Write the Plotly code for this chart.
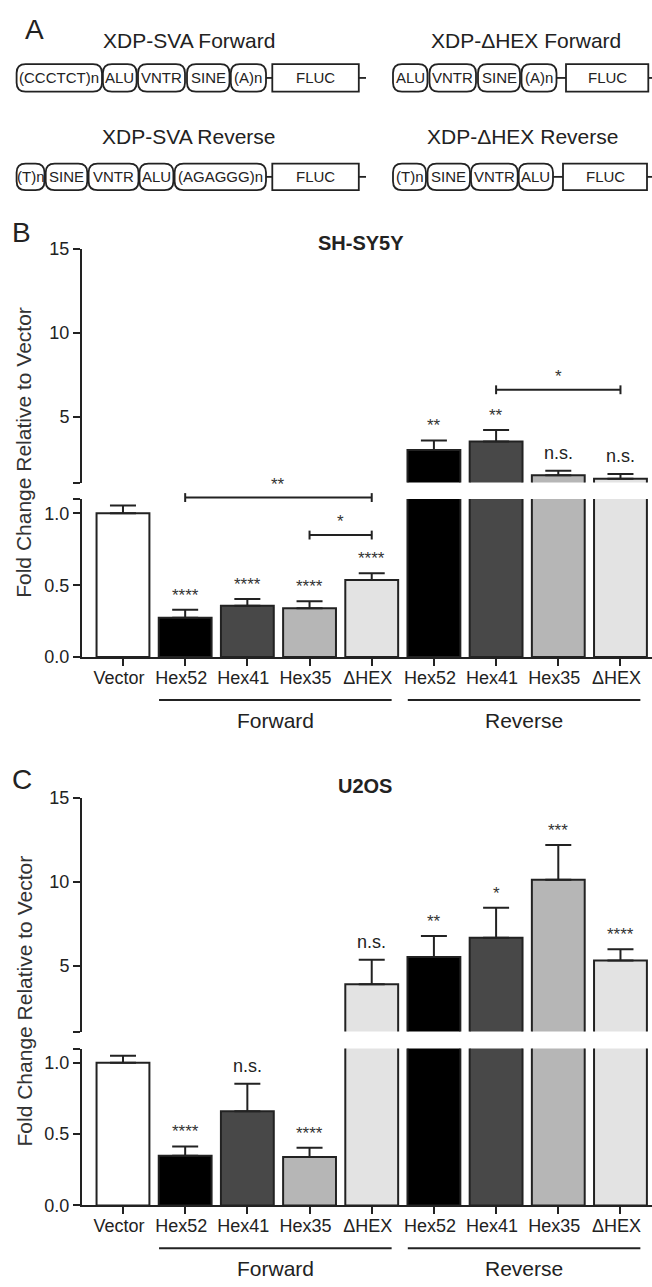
import plotly.graph_objects as go

W, H = 652, 1287

# ---------------- data ----------------
categories = ["Vector", "Hex52", "Hex41", "Hex35", "ΔHEX", "Hex52", "Hex41", "Hex35", "ΔHEX"]
groups = ["Forward", "Reverse"]
group_members = [(1, 4), (5, 8)]
bar_colors = ["#ffffff", "#000000", "#484848", "#b6b6b6", "#e3e3e3",
              "#000000", "#484848", "#b6b6b6", "#e3e3e3"]

shsy5y_mean = [1.0, 0.274, 0.358, 0.34, 0.536, 3.03, 3.54, 1.53, 1.33]
shsy5y_top = [1.055, 0.33, 0.404, 0.388, 0.584, 3.6, 4.22, 1.8, 1.6]
shsy5y_sig = ["", "****", "****", "****", "****", "**", "**", "n.s.", "n.s."]
shsy5y_brackets = [(1, 4, 1.11, "**"), (3, 4, 0.849, "*"), (6, 8, 6.61, "*")]

u2os_mean = [1.0, 0.349, 0.66, 0.34, 3.91, 5.53, 6.68, 10.12, 5.32]
u2os_top = [1.05, 0.414, 0.854, 0.405, 5.37, 6.78, 8.46, 12.19, 5.99]
u2os_sig = ["", "****", "n.s.", "****", "n.s.", "**", "*", "***", "****"]
u2os_brackets = []

lower_range = [0, 1.1]
upper_range = [1.1, 15]
lower_ticks = [0, 0.5, 1.0, 1.1]
lower_ticktext = ["0.0", "0.5", "1.0", ""]
upper_ticks = [1.1, 5, 10, 15]
upper_ticktext = ["", "5", "10", "15"]

ytitle = "Fold Change Relative to Vector"

# ---------------- layout constants ----------------
FONT = "Liberation Sans, Arial, Helvetica, sans-serif"
INK = "#222222"
XR = [-0.659, 8.507]
XDOM = [82 / W, 1.0]


def dom(top_px, bot_px):
    return [1 - bot_px / H, 1 - top_px / H]


panels = [
    dict(name="SH-SY5Y", letter="B", mean=shsy5y_mean, top=shsy5y_top, sig=shsy5y_sig,
         brackets=shsy5y_brackets, low=dom(496.7, 657.3), up=dom(242.3, 480.0),
         ax=("x", "y", "x2", "y2"), title_px=(361, 237), letter_px=(21, 226)),
    dict(name="U2OS", letter="C", mean=u2os_mean, top=u2os_top, sig=u2os_sig,
         brackets=u2os_brackets, low=dom(1055.0, 1214.3), up=dom(800.0, 1037.7),
         ax=("x3", "y3", "x4", "y4"), title_px=(365, 788), letter_px=(22, 782)),
]


def pmap(v, d, r):
    return d[0] + (v - r[0]) / (r[1] - r[0]) * (d[1] - d[0])


def P(x, y):
    return f"{x / W:.5f},{1 - y / H:.5f}"


def note(**kw):
    d = dict(showarrow=False, xanchor="center", yanchor="middle")
    d.update(kw)
    return d


fig = go.Figure()
shapes = []
annots = []

for p in panels:
    xl, yl, xu, yu = p["ax"]
    xs = list(range(len(categories)))
    err_plus = [t - m for t, m in zip(p["top"], p["mean"])]
    # lower segment of the broken axis: every bar
    fig.add_trace(go.Bar(
        x=xs, y=p["mean"], xaxis=xl, yaxis=yl, width=0.85,
        marker=dict(color=bar_colors, line=dict(color=INK, width=2)),
        error_y=dict(type="data", symmetric=False, array=err_plus,
                     arrayminus=[0] * len(xs), color=INK, thickness=2, width=13),
        showlegend=False, hoverinfo="skip"))
    # upper segment: only bars reaching above the break
    up_mean = [m if m > lower_range[1] else None for m in p["mean"]]
    fig.add_trace(go.Bar(
        x=xs, y=up_mean, xaxis=xu, yaxis=yu, width=0.85,
        marker=dict(color=bar_colors, line=dict(color=INK, width=2)),
        error_y=dict(type="data", symmetric=False, array=err_plus,
                     arrayminus=[0] * len(xs), color=INK, thickness=2, width=13),
        showlegend=False, hoverinfo="skip"))
    # significance labels above error bars
    for i, s in enumerate(p["sig"]):
        if not s:
            continue
        t = p["top"][i]
        ya = yl if t <= lower_range[1] else yu
        stars = s.startswith("*")
        annots.append(note(x=i, y=t, xref=xl, yref=ya, text=s,
                           yanchor="bottom", yshift=3 if stars else 6,
                           font=dict(size=17 if stars else 18,
                                     color="#333333" if stars else INK)))
    # comparison brackets
    for a, b, v, s in p["brackets"]:
        if v <= lower_range[1] + 0.05:
            yp = pmap(v, p["low"], lower_range)
        else:
            yp = pmap(v, p["up"], upper_range)
        tk = 4.5 / H
        shapes.append(dict(type="line", xref=xl, yref="paper", x0=a, x1=b, y0=yp, y1=yp,
                           line=dict(color=INK, width=2)))
        for xe in (a, b):
            shapes.append(dict(type="line", xref=xl, yref="paper", x0=xe, x1=xe,
                               y0=yp - tk, y1=yp + tk, line=dict(color=INK, width=2)))
        annots.append(note(x=(a + b) / 2, y=yp, xref=xl, yref="paper", text=s,
                           yanchor="bottom", yshift=2,
                           font=dict(size=17, color="#333333")))
    # group underlines and labels
    base = p["low"][0]
    for g, (a, b) in zip(groups, group_members):
        yline = base - 43.5 / H
        shapes.append(dict(type="line", xref=xl, yref="paper", x0=a - 0.42, x1=b + 0.32,
                           y0=yline, y1=yline, line=dict(color=INK, width=2)))
        annots.append(note(x=(a + b) / 2 - 0.05, y=base - 64 / H, xref=xl, yref="paper",
                           text=g, font=dict(size=21, color=INK)))
    # panel title, letter, y-axis title
    tx, ty = p["title_px"]
    annots.append(note(x=tx / W, y=1 - ty / H, xref="paper", yref="paper",
                       text=f"<b>{p['name']}</b>", font=dict(size=20, color=INK)))
    lx, ly = p["letter_px"]
    annots.append(note(x=lx / W, y=1 - ly / H, xref="paper", yref="paper",
                       text=p["letter"], font=dict(size=28, color=INK)))
    ymid = (p["low"][0] + p["up"][1]) / 2
    annots.append(note(x=24 / W, y=ymid, xref="paper", yref="paper", text=ytitle,
                       textangle=-90, font=dict(size=21, color="#333333")))

# ---------------- panel A schematic ----------------
diagram_titles = [("XDP-SVA Forward", 189, 31), ("XDP-ΔHEX Forward", 526, 31),
                  ("XDP-SVA Reverse", 189, 129), ("XDP-ΔHEX Reverse", 522, 129)]
diagram_rows = [
    dict(y=(55, 83), boxes=[("(CCCTCT)n", 16.6, 102), ("ALU", 102.9, 136.6), ("VNTR", 138, 185),
                            ("SINE", 187, 229.5), ("(A)n", 230.8, 266)], fluc=(272.3, 358.8), tail=366),
    dict(y=(55, 83), boxes=[("ALU", 393, 427.5), ("VNTR", 429.5, 476), ("SINE", 478, 520),
                            ("(A)n", 521.5, 556.5)], fluc=(566, 648.3), tail=653),
    dict(y=(156, 183), boxes=[("(T)n", 16.6, 44.5), ("SINE", 45.7, 87.3), ("VNTR", 88.6, 138.5),
                              ("ALU", 139.5, 173.4), ("(AGAGGG)n", 174.6, 266)], fluc=(272.3, 358.8), tail=366),
    dict(y=(156, 183), boxes=[("(T)n", 393, 426), ("SINE", 427.5, 470), ("VNTR", 471, 517.7),
                              ("ALU", 518.7, 553)], fluc=(563, 647), tail=653),
]


def rrect(x0, x1, y0, y1, r):
    return (f"M {P(x0 + r, y0)} L {P(x1 - r, y0)} Q {P(x1, y0)} {P(x1, y0 + r)} "
            f"L {P(x1, y1 - r)} Q {P(x1, y1)} {P(x1 - r, y1)} L {P(x0 + r, y1)} "
            f"Q {P(x0, y1)} {P(x0, y1 - r)} L {P(x0, y0 + r)} Q {P(x0, y0)} {P(x0 + r, y0)} Z")


for t, cx, cy in diagram_titles:
    annots.append(note(x=cx / W, y=1 - cy / H, xref="paper", yref="paper", text=t,
                       font=dict(size=21, color=INK)))
annots.append(note(x=34 / W, y=1 - 20 / H, xref="paper", yref="paper", text="A",
                   font=dict(size=28, color=INK)))

for row in diagram_rows:
    y0, y1 = row["y"]
    yc = (y0 + y1) / 2
    for label, a, b in row["boxes"]:
        shapes.append(dict(type="path", xref="paper", yref="paper", path=rrect(a, b, y0, y1, 9),
                           line=dict(color=INK, width=1.8), fillcolor="white"))
        annots.append(note(x=(a + b) / 2 / W, y=1 - yc / H, xref="paper", yref="paper",
                           text=label, font=dict(size=15, color=INK)))
    last = row["boxes"][-1][2]
    f0, f1 = row["fluc"]
    shapes.append(dict(type="line", xref="paper", yref="paper", x0=last / W, x1=f0 / W,
                       y0=1 - yc / H, y1=1 - yc / H, line=dict(color=INK, width=1.8)))
    shapes.append(dict(type="rect", xref="paper", yref="paper", x0=f0 / W, x1=f1 / W,
                       y0=1 - y1 / H, y1=1 - y0 / H, line=dict(color=INK, width=1.8)))
    shapes.append(dict(type="line", xref="paper", yref="paper", x0=f1 / W, x1=row["tail"] / W,
                       y0=1 - yc / H, y1=1 - yc / H, line=dict(color=INK, width=1.8)))
    annots.append(note(x=(f0 + f1) / 2 / W, y=1 - yc / H, xref="paper", yref="paper",
                       text="FLUC", font=dict(size=15, color=INK)))

# ---------------- axes ----------------
xcommon = dict(range=XR, domain=XDOM, showgrid=False, zeroline=False)
ycommon = dict(showgrid=False, zeroline=False, showline=True, linewidth=2, linecolor=INK,
               ticks="outside", ticklen=7, tickwidth=2, tickcolor=INK,
               tickfont=dict(size=18, color=INK))
layout_axes = {}
for p in panels:
    xl, yl, xu, yu = p["ax"]
    layout_axes["xaxis" + xl[1:]] = dict(
        xcommon, anchor=yl, showline=True, linewidth=2, linecolor=INK,
        ticks="outside", ticklen=7, tickwidth=2, tickcolor=INK,
        tickvals=list(range(len(categories))), ticktext=categories,
        tickfont=dict(size=18, color=INK), ticklabelshift=-4, ticklabelstandoff=-4)
    layout_axes["xaxis" + xu[1:]] = dict(xcommon, anchor=yu, visible=False, matches=xl)
    layout_axes["yaxis" + yl[1:]] = dict(ycommon, anchor=xl, domain=p["low"], range=lower_range,
                                         tickvals=lower_ticks, ticktext=lower_ticktext)
    layout_axes["yaxis" + yu[1:]] = dict(ycommon, anchor=xu, domain=p["up"], range=upper_range,
                                         tickvals=upper_ticks, ticktext=upper_ticktext)

fig.update_layout(
    width=W, height=H, margin=dict(l=0, r=0, t=0, b=0),
    paper_bgcolor="white", plot_bgcolor="white",
    font=dict(family=FONT, color=INK), bargap=0.15,
    shapes=shapes, annotations=annots, **layout_axes)

fig.write_html(
    "out.html", config={"displayModeBar": False},
    post_script="});document.body.style.margin='0';"
                "document.documentElement.style.overflow='hidden';(function(){")
